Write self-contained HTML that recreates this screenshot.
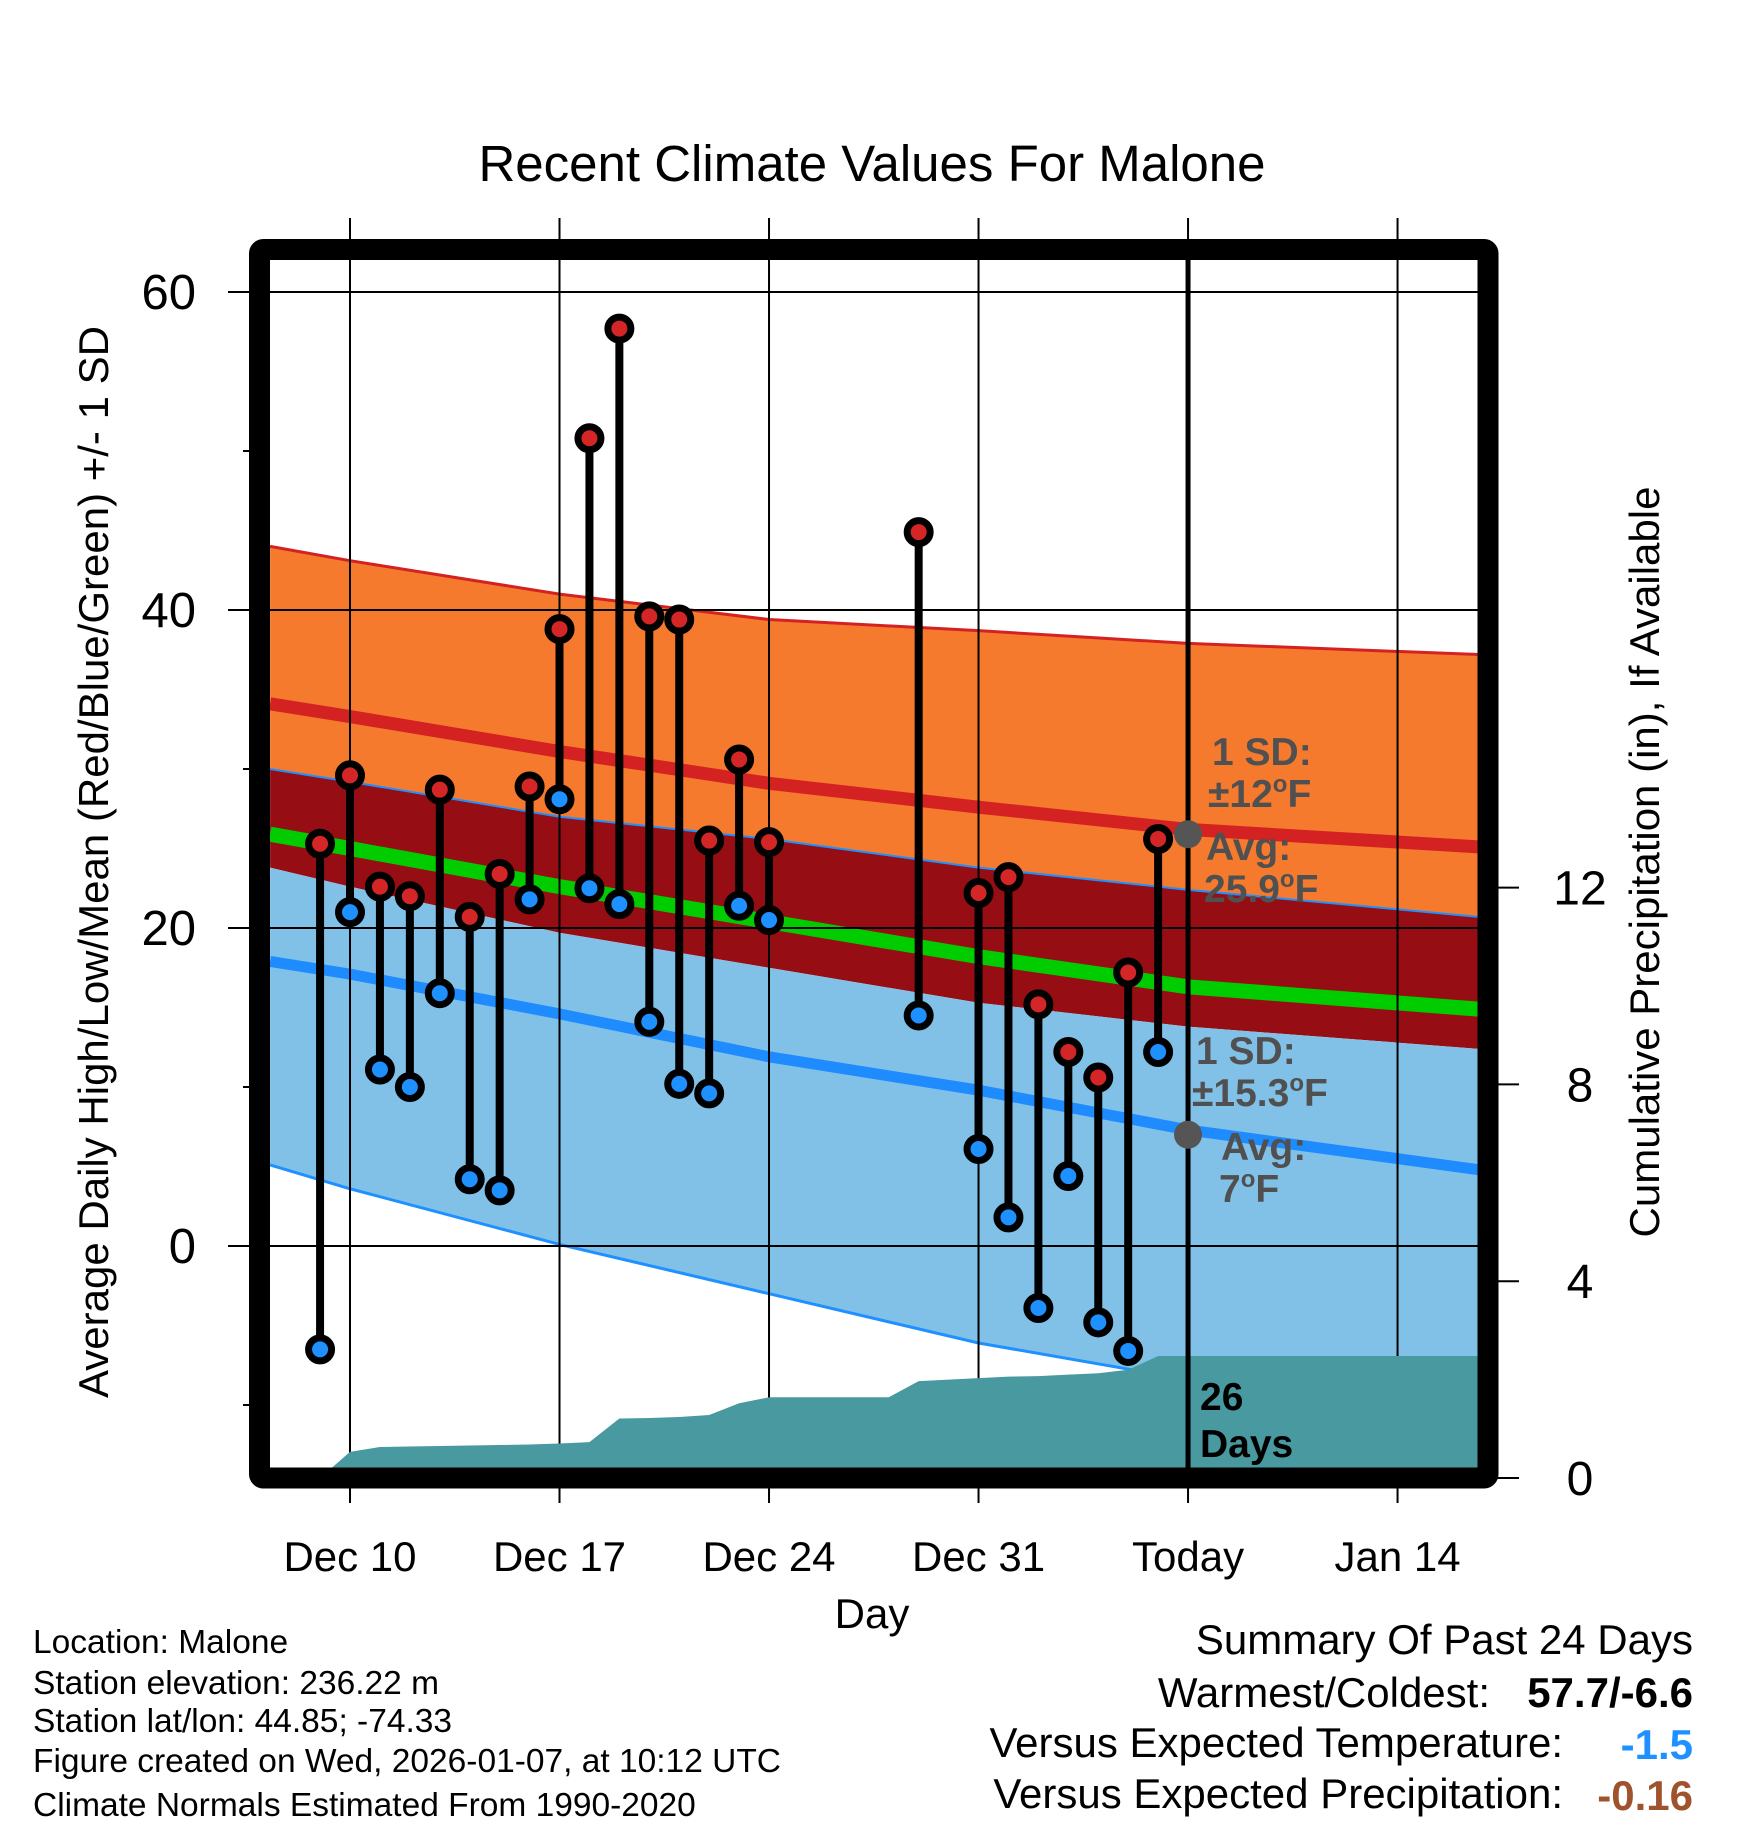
<!DOCTYPE html>
<html><head><meta charset="utf-8"><style>
html,body{margin:0;padding:0;background:#fff;}
svg{display:block;font-family:"Liberation Sans",Arial,sans-serif;}
</style></head><body>
<svg id="chart" width="1748" height="1828" viewBox="0 0 1748 1828" xmlns="http://www.w3.org/2000/svg">
<defs><clipPath id="plotclip"><rect x="260" y="250" width="1228" height="1228"/></clipPath></defs>
<g id="bands" clip-path="url(#plotclip)"></g>
<g id="grid"></g>
<g id="precip" clip-path="url(#plotclip)"></g>
<g id="marks"></g>
<g id="axes"></g>
<text x="872" y="181" font-size="51" text-anchor="middle">Recent Climate Values For Malone</text>
<text transform="translate(108,862) rotate(-90)" font-size="42" text-anchor="middle">Average Daily High/Low/Mean (Red/Blue/Green) +/- 1 SD</text>
<text transform="translate(1659,862) rotate(-90)" font-size="42" text-anchor="middle">Cumulative Precipitation (in), If Available</text>
<text x="872" y="1628" font-size="42" text-anchor="middle">Day</text>
<g font-size="33.5">
<text x="33" y="1653">Location: Malone</text>
<text x="33" y="1694">Station elevation: 236.22 m</text>
<text x="33" y="1732">Station lat/lon: 44.85; -74.33</text>
<text x="33" y="1772">Figure created on Wed, 2026-01-07, at 10:12 UTC</text>
<text x="33" y="1816">Climate Normals Estimated From 1990-2020</text>
</g>
<g font-size="42">
<text x="1693" y="1654" text-anchor="end">Summary Of Past 24 Days</text>
<text x="1490" y="1707" text-anchor="end">Warmest/Coldest:</text>
<text x="1693" y="1707" text-anchor="end" font-weight="bold">57.7/-6.6</text>
<text x="1563" y="1757" text-anchor="end">Versus Expected Temperature:</text>
<text x="1693" y="1759" text-anchor="end" font-weight="bold" fill="#1e90ff">-1.5</text>
<text x="1563" y="1808" text-anchor="end">Versus Expected Precipitation:</text>
<text x="1693" y="1810" text-anchor="end" font-weight="bold" fill="#a0522d">-0.16</text>
</g>
</svg>
<script>
// ---- data ----
const bandDays   = [-2.67, 0, 7, 14, 21, 28, 37.7];
const sdHighTop  = [44.0, 43.1, 41.0, 39.4, 38.7, 37.9, 37.2];
const meanHigh   = [34.1, 33.3, 31.1, 29.1, 27.6, 26.2, 25.1];
const sdLowTop   = [30.0, 29.2, 27.0, 25.6, 23.8, 22.4, 20.7];
const sdHighBot  = [23.8, 22.6, 19.7, 17.5, 15.3, 13.8, 12.4];
const meanAvg    = [25.9, 25.0, 22.6, 20.4, 18.2, 16.3, 14.9];
const meanLow    = [17.9, 17.1, 14.6, 11.9, 9.8, 7.3, 4.8];
const sdLowBot   = [5.1, 3.6, 0.1, -3.0, -6.1, -8.4, -10.5];
const obsDays  = [-1,0,1,2,3,4,5,6,7,8,9,10,11,12,13,14,19,21,22,23,24,25,26,27];
const obsHigh  = [25.3,29.6,22.6,22.0,28.7,20.7,23.4,28.9,38.8,50.8,57.7,39.6,39.4,25.5,30.6,25.4,44.9,22.2,23.2,15.2,12.2,10.6,17.2,25.6];
const obsLow   = [-6.5,21.0,11.1,10.0,15.9,4.2,3.5,21.8,28.1,22.5,21.5,14.1,10.2,9.6,21.4,20.5,14.5,6.1,1.8,-3.9,4.4,-4.8,-6.6,12.2];
const precipDays = [-1,0,1,2,3,4,5,6,7,8,9,10,11,12,13,14,15,16,17,18,19,20,21,22,23,24,25,26,27,38];
const precipCum  = [0,0.53,0.63,0.64,0.65,0.66,0.67,0.68,0.70,0.73,1.21,1.22,1.24,1.28,1.52,1.64,1.64,1.64,1.64,1.64,1.97,2.0,2.03,2.06,2.07,2.1,2.13,2.2,2.48,2.48];
const tempTicks = [60,40,20,0];
const tempMinor = [50,30,10,-10];
const precipTicks = [0,4,8,12];
const dateTickDays = [0,7,14,21,28,35];
const dateTickLabels = ["Dec 10","Dec 17","Dec 24","Dec 31","Today","Jan 14"];
const todayDay = 28;
const todayAvgHigh = 25.9, todayAvgLow = 7;

// ---- scales ----
const X = d => 350 + d*29.93;
const Y = v => 1246 - v*15.9;
const YP = p => 1478 - p*49.2;
const NS = "http://www.w3.org/2000/svg";
function mk(tag, parent, attrs){const e=document.createElementNS(NS,tag);for(const k in attrs)e.setAttribute(k,attrs[k]);parent.appendChild(e);return e;}
const pts = (arr)=>bandDays.map((d,i)=>X(d)+','+Y(arr[i]));
function area(top,bot,fill,name){
  const p = pts(top).concat(pts(bot).reverse()).join(' ');
  const e = mk('polygon', bands, {points:p, fill:fill});
  
  
}
function line(arr,stroke,w,name){
  const e = mk('polyline', bands, {points:pts(arr).join(' '), fill:'none', stroke:stroke, 'stroke-width':w});
  
  
}
const bands = document.getElementById('bands');
area(sdHighTop, sdLowTop, '#f57a2d', 'high-sd-band');
area(sdLowTop, sdHighBot, '#960e14', 'overlap-band');
area(sdHighBot, sdLowBot, '#82c1e7', 'low-sd-band');
line(sdHighTop, '#d42222', 3, 'high-sd-top-line');
line(sdLowTop, '#1e90ff', 2, 'low-sd-top-line');
line(sdLowBot, '#1e90ff', 3, 'low-sd-bottom-line');
line(meanHigh, '#d42222', 13, 'mean-high-line');
line(meanAvg, '#00cc00', 15, 'mean-avg-line');
line(meanLow, '#1e8cff', 11, 'mean-low-line');

// grid
const grid = document.getElementById('grid');
dateTickDays.forEach((d,i)=>{
  const e = mk('line', grid, {x1:X(d),x2:X(d),y1:218,y2:1503,stroke:'#000','stroke-width':2});
  
  
  const t = mk('text', grid, {x:X(d), y:1571, 'font-size':42, 'text-anchor':'middle'});
  t.textContent = dateTickLabels[i];
  
  
});
tempTicks.forEach(v=>{
  const e = mk('line', grid, {x1:228,x2:1488,y1:Y(v),y2:Y(v),stroke:'#000','stroke-width':2});
  
  
  const t = mk('text', grid, {x:196, y:Y(v)+17, 'font-size':49, 'text-anchor':'end'});
  t.textContent = v;
  
  
});
tempMinor.forEach(v=>{
  const e = mk('line', grid, {x1:243,x2:260,y1:Y(v),y2:Y(v),stroke:'#000','stroke-width':2});
  
  
});
precipTicks.forEach(p=>{
  const e = mk('line', grid, {x1:1488,x2:1519,y1:YP(p),y2:YP(p),stroke:'#000','stroke-width':2});
  
  
  const t = mk('text', grid, {x:1580, y:YP(p)+17, 'font-size':48, 'text-anchor':'middle'});
  t.textContent = p;
  
  
});

// precip
const pg = document.getElementById('precip');
let pp = precipDays.map((d,i)=>X(d)+','+YP(precipCum[i]));
pp.push(X(precipDays[precipDays.length-1])+','+YP(0));
pp.push(X(precipDays[0])+','+YP(0));
const pa = mk('polygon', pg, {points:pp.join(' '), fill:'#4899a0'});



// marks
const mg = document.getElementById('marks');
const tl = mk('line', mg, {x1:X(todayDay),x2:X(todayDay),y1:250,y2:1478,stroke:'#000','stroke-width':5});


obsDays.forEach((d,i)=>{
  const s = mk('line', mg, {x1:X(d),x2:X(d),y1:Y(obsHigh[i]),y2:Y(obsLow[i]),stroke:'#000','stroke-width':8});
  
  
});
obsDays.forEach((d,i)=>{
  const h = mk('circle', mg, {cx:X(d),cy:Y(obsHigh[i]),r:11.5,fill:'#d42626',stroke:'#000','stroke-width':7});
  
  
  const l = mk('circle', mg, {cx:X(d),cy:Y(obsLow[i]),r:11.5,fill:'#1e90ff',stroke:'#000','stroke-width':7});
  
  
});
const g1 = mk('circle', mg, {cx:X(todayDay),cy:Y(todayAvgHigh),r:14,fill:'#555'});


const g2 = mk('circle', mg, {cx:X(todayDay),cy:Y(todayAvgLow),r:14,fill:'#555'});



function ann(x,y,txt,fill,name){
  const t = mk('text', mg, {x:x,y:y,'font-size':39,'font-weight':'bold',fill:fill});
  t.innerHTML = txt;
  
  
}
ann(1212,765,'1 SD:','#505050','high-sd-label');
ann(1208,807,'±12<tspan font-size="24" dy="-15">o</tspan><tspan dy="15">F</tspan>','#505050','high-sd-value');
ann(1206,860,'Avg:','#505050','high-avg-label');
ann(1204,902,'25.9<tspan font-size="24" dy="-15">o</tspan><tspan dy="15">F</tspan>','#505050','high-avg-value');
ann(1196,1064,'1 SD:','#505050','low-sd-label');
ann(1192,1106,'±15.3<tspan font-size="24" dy="-15">o</tspan><tspan dy="15">F</tspan>','#505050','low-sd-value');
ann(1221,1160,'Avg:','#505050','low-avg-label');
ann(1219,1202,'7<tspan font-size="24" dy="-15">o</tspan><tspan dy="15">F</tspan>','#505050','low-avg-value');
ann(1200,1410,'26','#000','days-count');
ann(1200,1457,'Days','#000','days-label');

// frame
const ax = document.getElementById('axes');
const fr = mk('rect', ax, {x:259.5,y:249.5,width:1228.5,height:1228.5,fill:'none',stroke:'#000','stroke-width':21,rx:4});


</script>
</body></html>
